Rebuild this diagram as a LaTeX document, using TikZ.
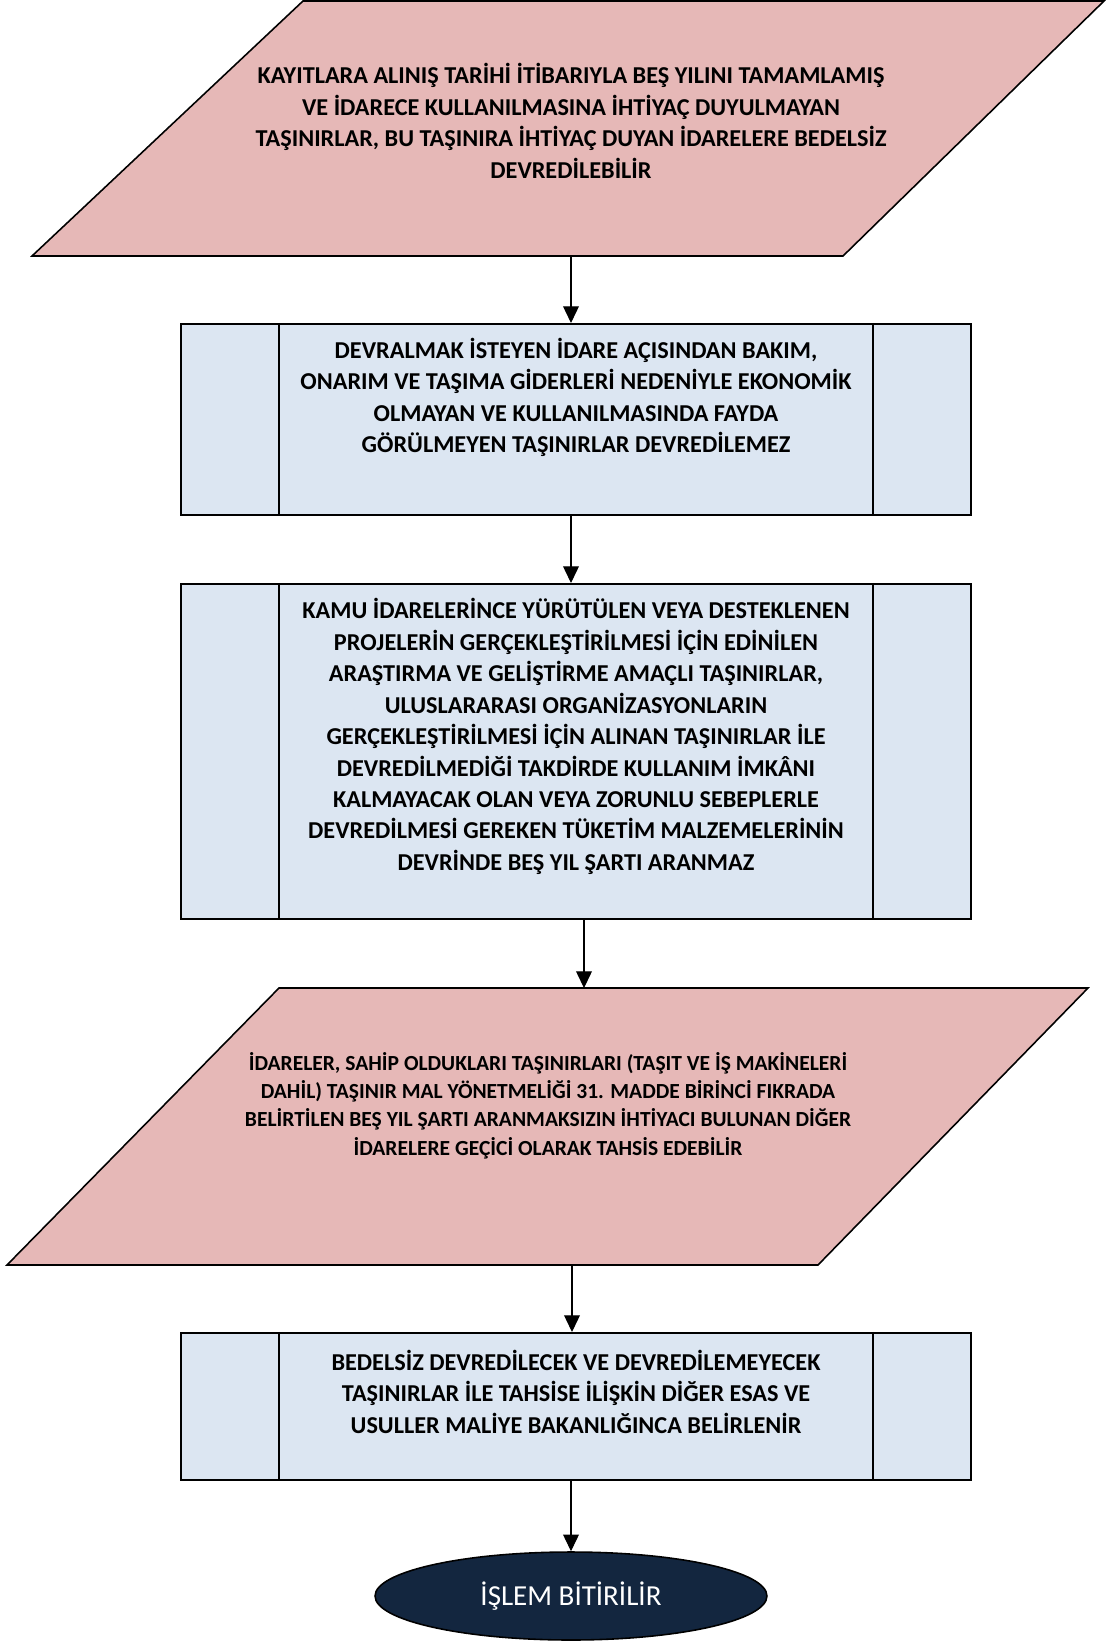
\documentclass[tikz,border=0pt]{standalone}
\usepackage{fontspec}
\setmainfont{Carlito}
\usetikzlibrary{arrows.meta,shapes.geometric}

\definecolor{parapink}{HTML}{E6B8B7}
\definecolor{boxblue}{HTML}{DCE6F2}
\definecolor{endnavy}{HTML}{13263F}

\tikzset{
  para/.style={draw,fill=parapink,line width=0.9pt},
  procbox/.style={draw,fill=boxblue,line width=1.2pt,minimum width=15.8cm,inner sep=0pt},
  boxtext/.style={align=center,font=\fontsize{13.8}{17.9}\selectfont\bfseries},
  paratext/.style={align=center,font=\fontsize{12.25}{16.05}\selectfont\bfseries},
  arr/.style={-{Triangle[length=9.5pt,width=9pt]},line width=0.6pt}
}

\begin{document}
\begin{tikzpicture}[x=0.02cm,y=-0.02cm]
\useasboundingbox (0,0) rectangle (1106,1641);

% first parallelogram
\draw[para] (303,1) -- (1104,1) -- (843,256) -- (32,256) -- cycle;
\coordinate (p1b) at (571,256);
\node[boxtext] (t1) at (571,121) {KAYITLARA ALINIŞ TARİHİ İTİBARIYLA BEŞ YILINI TAMAMLAMIŞ\\
VE İDARECE KULLANILMASINA İHTİYAÇ DUYULMAYAN\\
TAŞINIRLAR, BU TAŞINIRA İHTİYAÇ DUYAN İDARELERE BEDELSİZ\\
DEVREDİLEBİLİR};

% process boxes
\node[procbox,minimum height=3.82cm] (b1) at (576,419.5) {};
\node[procbox,minimum height=6.7cm] (b2) at (576,751.5) {};
\node[procbox,minimum height=2.94cm] (b3) at (576,1406.5) {};
\foreach \b in {b1,b2,b3} {
  \draw[line width=0.8pt] ([xshift=1.98cm]\b.north west) -- ([xshift=1.98cm]\b.south west);
  \draw[line width=0.8pt] ([xshift=-1.98cm]\b.north east) -- ([xshift=-1.98cm]\b.south east);
}
\node[boxtext] (t2) at (576,397.6) {DEVRALMAK İSTEYEN İDARE AÇISINDAN BAKIM,\\
ONARIM VE TAŞIMA GİDERLERİ NEDENİYLE EKONOMİK\\
OLMAYAN VE KULLANILMASINDA FAYDA\\
GÖRÜLMEYEN TAŞINIRLAR DEVREDİLEMEZ};
\node[boxtext] (t3) at (576,736.5) {KAMU İDARELERİNCE YÜRÜTÜLEN VEYA DESTEKLENEN\\
PROJELERİN GERÇEKLEŞTİRİLMESİ İÇİN EDİNİLEN\\
ARAŞTIRMA VE GELİŞTİRME AMAÇLI TAŞINIRLAR,\\
ULUSLARARASI ORGANİZASYONLARIN\\
GERÇEKLEŞTİRİLMESİ İÇİN ALINAN TAŞINIRLAR İLE\\
DEVREDİLMEDİĞİ TAKDİRDE KULLANIM İMKÂNI\\
KALMAYACAK OLAN VEYA ZORUNLU SEBEPLERLE\\
DEVREDİLMESİ GEREKEN TÜKETİM MALZEMELERİNİN\\
DEVRİNDE BEŞ YIL ŞARTI ARANMAZ};

% second parallelogram
\draw[para] (279,988) -- (1088,988) -- (818,1265) -- (7,1265) -- cycle;
\coordinate (p2t) at (584,988);
\coordinate (p2b) at (572,1265);
\node[paratext] (t4) at (548,1105.5) {İDARELER, SAHİP OLDUKLARI TAŞINIRLARI (TAŞIT VE İŞ MAKİNELERİ\\
DAHİL) TAŞINIR MAL YÖNETMELİĞİ 31. MADDE BİRİNCİ FIKRADA\\
BELİRTİLEN BEŞ YIL ŞARTI ARANMAKSIZIN İHTİYACI BULUNAN DİĞER\\
İDARELERE GEÇİCİ OLARAK TAHSİS EDEBİLİR};

\node[boxtext] (t5) at (576,1391.5) {BEDELSİZ DEVREDİLECEK VE DEVREDİLEMEYECEK\\
TAŞINIRLAR İLE TAHSİSE İLİŞKİN DİĞER ESAS VE\\
USULLER MALİYE BAKANLIĞINCA BELİRLENİR};

% end
\node[ellipse,draw,fill=endnavy,line width=0.9pt,minimum width=7.84cm,minimum height=1.76cm,inner sep=0pt,
  text=white,font=\fontsize{16.5}{20}\selectfont] (e) at (571,1596) {İŞLEM BİTİRİLİR};

\draw[arr] (p1b) -- (p1b |- b1.north);
\draw[arr] ([xshift=-0.1cm]b1.south) -- ([xshift=-0.1cm]b2.north);
\draw[arr] (p2t |- b2.south) -- (p2t);
\draw[arr] (p2b) -- (p2b |- b3.north);
\draw[arr] (e.north |- b3.south) -- (e.north);
\end{tikzpicture}
\end{document}
